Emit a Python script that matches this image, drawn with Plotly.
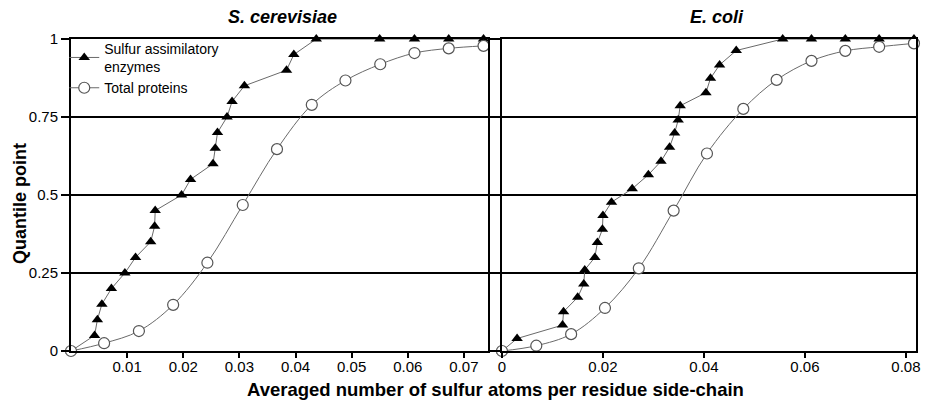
import plotly.graph_objects as go

# ---- data: S. cerevisiae ----
sc_sulfur_x = [0.0, 0.0042, 0.0047, 0.0055, 0.0072, 0.0096, 0.0115, 0.0142, 0.0149, 0.0150,
               0.0197, 0.0213, 0.0253, 0.0257, 0.0261, 0.0278, 0.0287, 0.0309, 0.0384, 0.0397,
               0.0437, 0.0550, 0.0612, 0.0673, 0.0735]
sc_sulfur_y = [0.0, 0.05, 0.10, 0.15, 0.20, 0.25, 0.30, 0.35, 0.40, 0.45,
               0.50, 0.55, 0.60, 0.65, 0.70, 0.75, 0.80, 0.85, 0.90, 0.95,
               1.0, 1.0, 1.0, 1.0, 1.0]
sc_total_x = [0.0, 0.0059, 0.0121, 0.0182, 0.0243, 0.0306, 0.0367, 0.0429, 0.0489, 0.0551,
              0.0612, 0.0673, 0.0735]
sc_total_y = [0.0, 0.025, 0.064, 0.148, 0.283, 0.468, 0.647, 0.789, 0.867, 0.919,
              0.955, 0.970, 0.978]

# ---- data: E. coli ----
ec_sulfur_x = [0.0, 0.0030, 0.0120, 0.0122, 0.0150, 0.0162, 0.0164, 0.0184, 0.0189, 0.0199,
               0.0200, 0.0217, 0.0258, 0.0290, 0.0315, 0.0332, 0.0342, 0.0349, 0.0353, 0.0404,
               0.0413, 0.0431, 0.0464, 0.0556, 0.0613, 0.0680, 0.0747, 0.0816]
ec_sulfur_y = [0.0, 0.040, 0.083, 0.126, 0.172, 0.215, 0.260, 0.300, 0.348, 0.390,
               0.434, 0.477, 0.520, 0.565, 0.608, 0.653, 0.699, 0.740, 0.786, 0.828,
               0.874, 0.917, 0.963, 1.0, 1.0, 1.0, 1.0, 1.0]
ec_total_x = [0.0, 0.0068, 0.0137, 0.0204, 0.0271, 0.0340, 0.0406, 0.0478, 0.0544, 0.0613,
              0.0680, 0.0747, 0.0816]
ec_total_y = [0.0, 0.017, 0.054, 0.138, 0.265, 0.450, 0.633, 0.776, 0.869, 0.930,
              0.962, 0.975, 0.986]

sc_xticks = [0.01, 0.02, 0.03, 0.04, 0.05, 0.06, 0.07]
ec_xticks = [0, 0.02, 0.04, 0.06, 0.08]
ec_xtick_labels = ["0", "0.02", "0.04", "0.06", "0.08"]
yticks = [0, 0.25, 0.5, 0.75, 1]
ytick_labels = ["0", "0.25", "0.5", "0.75", "1"]

FONT = "Liberation Sans, Arial, sans-serif"
line_col = "#6a6a6a"

fig = go.Figure()

def add_pair(sx, sy, tx, ty, xa, ya, show):
    fig.add_trace(go.Scatter(
        x=sx, y=sy, mode="lines+markers", name="Sulfur assimilatory<br>enzymes",
        xaxis=xa, yaxis=ya, showlegend=show, cliponaxis=False,
        line=dict(color=line_col, width=1),
        marker=dict(symbol="triangle-up", size=10, color="black")))
    fig.add_trace(go.Scatter(
        x=tx, y=ty, mode="lines+markers", name="Total proteins",
        xaxis=xa, yaxis=ya, showlegend=show, cliponaxis=False,
        line=dict(color=line_col, width=1, shape="spline", smoothing=1.0),
        marker=dict(symbol="circle", size=11, color="white",
                    line=dict(color="#555555", width=1.2))))

add_pair(sc_sulfur_x, sc_sulfur_y, sc_total_x, sc_total_y, "x", "y", True)
add_pair(ec_sulfur_x, ec_sulfur_y, ec_total_x, ec_total_y, "x2", "y2", False)

axis_common = dict(showline=True, linecolor="black", linewidth=2, mirror=True,
                   zeroline=False, ticks="outside", tickcolor="black", tickwidth=2,
                   tickfont=dict(family=FONT, size=15, color="black"))

d1 = [0, 0.4935]
d2 = [0.510, 1]

fig.update_layout(
    width=926, height=404,
    margin=dict(l=71, r=6, t=39, b=53),
    paper_bgcolor="white", plot_bgcolor="white",
    font=dict(family=FONT, color="black"),
    xaxis=dict(domain=d1, range=[0, 0.0743], tickvals=sc_xticks,
               ticktext=[str(v) for v in sc_xticks], ticklen=5, ticklabelstandoff=-4,
               showgrid=False, anchor="y", **axis_common),
    yaxis=dict(domain=[0, 1], range=[0, 1], tickvals=yticks, ticktext=ytick_labels,
               ticklen=8, showgrid=True, gridcolor="black", gridwidth=2,
               anchor="x", **axis_common),
    xaxis2=dict(domain=d2, range=[0, 0.082], tickvals=ec_xticks,
                ticktext=ec_xtick_labels, ticklen=5, ticklabelstandoff=-4,
                showgrid=False, anchor="y2", **axis_common),
    yaxis2=dict(domain=[0, 1], range=[0, 1], tickvals=yticks, showticklabels=False,
                ticklen=10, showgrid=True, gridcolor="black", gridwidth=2,
                anchor="x2", **axis_common),
    legend=dict(x=-0.008, y=1.02, xanchor="left", yanchor="top",
                bgcolor="rgba(0,0,0,0)", tracegroupgap=0,
                font=dict(family=FONT, size=14, color="black")),
    annotations=[
        dict(text="<b><i>S. cerevisiae</i></b>", xref="paper", yref="paper",
             x=(d1[0] + d1[1]) / 2, y=1, xanchor="center", yanchor="middle",
             yshift=22, xshift=3,
             showarrow=False, font=dict(family=FONT, size=18, color="black")),
        dict(text="<b><i>E. coli</i></b>", xref="paper", yref="paper",
             x=(d2[0] + d2[1]) / 2, y=1, xanchor="center", yanchor="middle",
             yshift=22, xshift=8,
             showarrow=False, font=dict(family=FONT, size=18, color="black")),
        dict(text="<b>Averaged number of sulfur atoms per residue side-chain</b>",
             xref="paper", yref="paper", x=0.502, y=0, xanchor="center",
             yanchor="middle", yshift=-38,
             showarrow=False, font=dict(family=FONT, size=18.5, color="black")),
        dict(text="<b>Quantile point</b>", xref="paper", yref="paper", x=0, y=0.5,
             xanchor="center", yanchor="middle", xshift=-51, yshift=-9, textangle=-90,
             showarrow=False, font=dict(family=FONT, size=18, color="black")),
    ],
)

fig.write_html("out.html", config={"displayModeBar": False},
               post_script="document.body.style.margin='0';")
